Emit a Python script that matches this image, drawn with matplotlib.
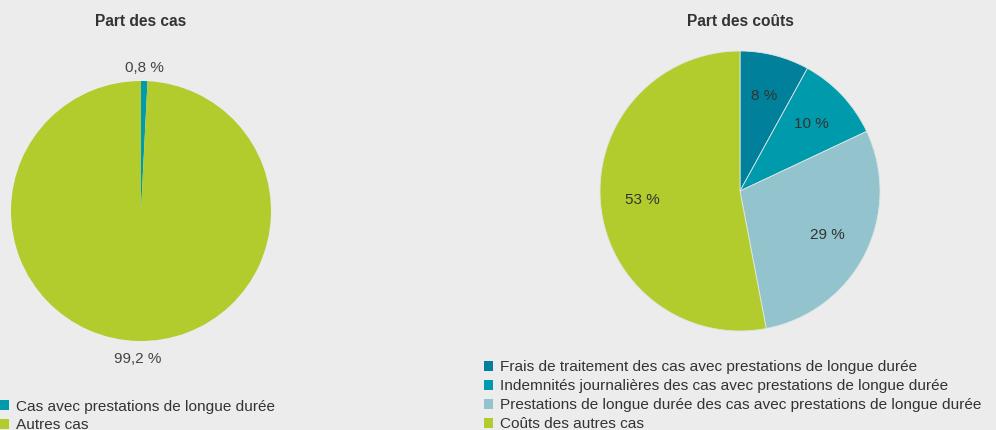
import numpy as np
import matplotlib
matplotlib.use("Agg")
import matplotlib.pyplot as plt
from matplotlib.patches import Patch

plt.rcParams['font.family'] = ['Liberation Sans', 'DejaVu Sans']

# Part des cas
cas_labels = ["Cas avec prestations de longue durée", "Autres cas"]
cas_values = [0.8, 99.2]
cas_text = ["0,8 %", "99,2 %"]
cas_colors = ["#009aad", "#b2cc2e"]

# Part des coûts
couts_labels = [
    "Frais de traitement des cas avec prestations de longue durée",
    "Indemnités journalières des cas avec prestations de longue durée",
    "Prestations de longue durée des cas avec prestations de longue durée",
    "Coûts des autres cas",
]
couts_values = [8, 10, 29, 53]
couts_text = ["8 %", "10 %", "29 %", "53 %"]
couts_colors = ["#00809a", "#009aad", "#93c4ce", "#b2cc2e"]

BG = "#ebeceb"
TXT = "#333333"
W, H = 996, 430

fig = plt.figure(figsize=(W / 100, H / 100), dpi=100, facecolor=BG)


def px_axes(cx, cy, r):
    return fig.add_axes([(cx - r) / W, (H - cy - r) / H, 2 * r / W, 2 * r / H])


def mid_angles(values):
    vals = np.asarray(values, dtype=float)
    frac = vals / vals.sum() * 360.0
    start = 90 - np.concatenate([[0], np.cumsum(frac)[:-1]])
    return np.deg2rad(start - frac / 2)


# Left pie
ax1 = px_axes(141, 211, 130)
ax1.pie(cas_values, colors=cas_colors, startangle=90, counterclock=False,
        radius=1, wedgeprops=dict(linewidth=0))
ax1.set_xlim(-1, 1)
ax1.set_ylim(-1, 1)
ax1.set_aspect('equal')
ax1.axis('off')
for ang, t, d in zip(mid_angles(cas_values), cas_text, [1.1, 1.14]):
    ax1.text(d * np.cos(ang), d * np.sin(ang), t, ha='center', va='center',
             fontsize=11, color='#444444')
fig.text(141 / W, 1 - 22 / H, "Part des cas", ha='center', va='center',
         fontsize=11.2, fontweight='bold', color=TXT)

# Right pie
ax2 = px_axes(740, 191, 140)
ax2.pie(couts_values, colors=couts_colors, startangle=90, counterclock=False,
        radius=1, wedgeprops=dict(linewidth=0.6, edgecolor='#dfe6e6'))
ax2.set_xlim(-1, 1)
ax2.set_ylim(-1, 1)
ax2.set_aspect('equal')
ax2.axis('off')
for ang, t in zip(mid_angles(couts_values), couts_text):
    d = 0.7
    ax2.text(d * np.cos(ang), d * np.sin(ang), t, ha='center', va='center',
             fontsize=11, color=TXT)
fig.text(740 / W, 1 - 22 / H, "Part des coûts", ha='center', va='center',
         fontsize=11.2, fontweight='bold', color=TXT)


def legend(labels, colors, x, y):
    handles = [Patch(facecolor=c, edgecolor='none', label=l) for l, c in zip(labels, colors)]
    leg = fig.legend(handles=handles, loc='upper left',
                     bbox_to_anchor=(x / W, 1 - y / H), frameon=False,
                     fontsize=11.1, handlelength=0.56, handleheight=0.56,
                     handletextpad=0.45, labelspacing=0.32, borderpad=0,
                     borderaxespad=0)
    for t in leg.get_texts():
        t.set_color(TXT)
    return leg


legend(cas_labels, cas_colors, 0, 399.5)
legend(couts_labels, couts_colors, 484, 360.5)

fig.savefig("out.png", dpi=100, facecolor=BG)
